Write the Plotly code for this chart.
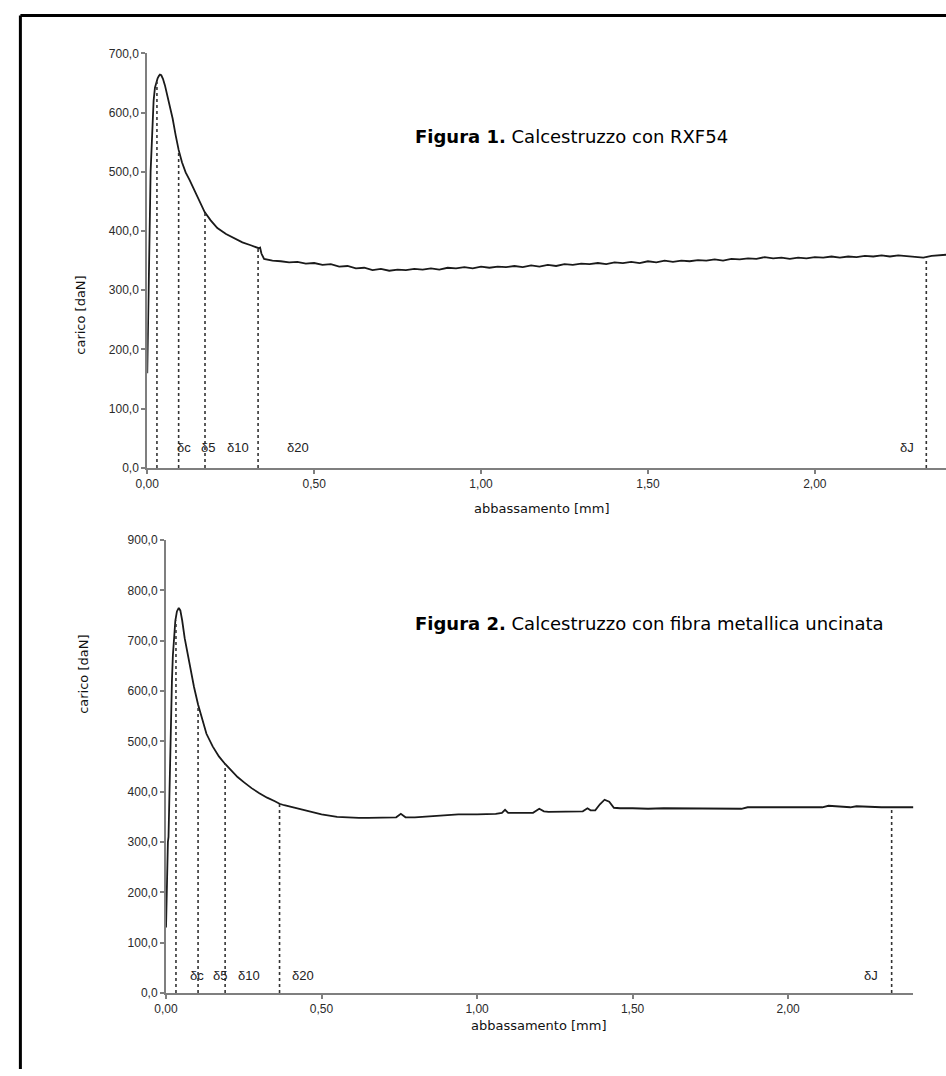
import plotly.graph_objects as go

W, H = 946, 1076

# ---------------- data: Figura 1 (RXF54) ----------------
x1 = [0.000, 0.002, 0.004, 0.005, 0.006, 0.008, 0.010, 0.013, 0.016, 0.019, 0.023, 0.027,
      0.031, 0.035, 0.038, 0.042, 0.047, 0.053, 0.060, 0.068, 0.076, 0.085, 0.094, 0.104,
      0.115, 0.127, 0.140, 0.155, 0.172, 0.190, 0.210, 0.236, 0.260, 0.285, 0.310, 0.325,
      0.334, 0.338, 0.342, 0.350, 0.375,
      0.400, 0.425, 0.450, 0.475, 0.500, 0.525, 0.550, 0.575, 0.600, 0.625, 0.650, 0.675,
      0.700, 0.725, 0.750, 0.775, 0.800, 0.825, 0.850, 0.875, 0.900, 0.925, 0.950, 0.975,
      1.000, 1.025, 1.050, 1.075, 1.100, 1.125, 1.150, 1.175, 1.200, 1.225, 1.250, 1.275,
      1.300, 1.325, 1.350, 1.375, 1.400, 1.425, 1.450, 1.475, 1.500, 1.525, 1.550, 1.575,
      1.600, 1.625, 1.650, 1.675, 1.700, 1.725, 1.750, 1.775, 1.800, 1.825, 1.850, 1.875,
      1.900, 1.925, 1.950, 1.975, 2.000, 2.025, 2.050, 2.075, 2.100, 2.125, 2.150, 2.175,
      2.200, 2.225, 2.250, 2.275, 2.300, 2.325, 2.350, 2.367, 2.393]
y1 = [160, 250, 330, 385, 372, 430, 500, 545, 585, 620, 642, 652,
      658, 662, 664, 663, 657, 646, 630, 612, 590, 562, 537, 516,
      499, 486, 470, 452, 432, 418, 405, 395, 388, 381, 376, 373,
      371, 372, 362, 353, 350,
      349, 347, 348, 345, 346, 343, 344, 340, 341, 337, 338, 334,
      336, 333, 335, 334, 336, 335, 337, 335, 338, 337, 339, 337,
      340, 338, 340, 339, 341, 339, 342, 340, 343, 341, 344, 343,
      345, 344, 346, 344, 347, 346, 348, 346, 349, 347, 350, 348,
      350, 349, 351, 350, 352, 350, 353, 352, 354, 353, 356, 354,
      355, 353, 355, 354, 356, 355, 357, 355, 357, 356, 358, 357,
      359, 357, 359, 358, 357, 355, 358, 359, 360]

# characteristic displacements (Figura 1)
d1_x = [0.029, 0.094, 0.173, 0.332, 2.334]
d1_y = [652, 535, 432, 371, 356]

# ---------------- data: Figura 2 (fibra metallica uncinata) ----------------
x2 = [0.000, 0.002, 0.004, 0.006, 0.008, 0.010, 0.012, 0.014, 0.017, 0.019, 0.022, 0.026,
      0.030, 0.035, 0.041, 0.046, 0.052, 0.060, 0.070, 0.080, 0.090, 0.103, 0.115, 0.130,
      0.150, 0.170, 0.190, 0.210, 0.230, 0.250, 0.275, 0.300, 0.325, 0.350, 0.365, 0.380,
      0.400, 0.425, 0.457, 0.500, 0.550, 0.600, 0.620, 0.650, 0.700, 0.740, 0.755, 0.770,
      0.800, 0.850, 0.900, 0.940, 1.000, 1.060, 1.080, 1.090, 1.100, 1.150, 1.180, 1.200,
      1.215, 1.230, 1.280, 1.340, 1.355, 1.365, 1.380, 1.395, 1.410, 1.425, 1.440, 1.460,
      1.500, 1.550, 1.600, 1.700, 1.800, 1.850, 1.870, 1.950, 2.050, 2.110, 2.130, 2.200,
      2.220, 2.300, 2.403]
y2 = [130, 220, 225, 300, 310, 380, 400, 470, 560, 620, 670, 715,
      740, 758, 765, 760, 740, 705, 670, 640, 608, 573, 545, 515,
      490, 470, 455, 441, 429, 419, 407, 397, 388, 381, 376, 373,
      370, 366, 362, 355, 350, 348, 348, 348, 348, 349, 356, 349,
      349, 351, 352, 355, 355, 356, 358, 364, 358, 358, 358, 366,
      361, 360, 361, 361, 367, 363, 363, 375, 384, 380, 368, 367,
      367, 366, 367, 367, 366, 366, 369, 369, 369, 369, 372, 369,
      371, 369, 369]

# characteristic displacements (Figura 2)
d2_x = [0.032, 0.103, 0.190, 0.365, 2.333]
d2_y = [740, 573, 455, 376, 369]

d_labels = ["δc", "δ5", "δ10", "δ20", "δJ"]
d1_label_x = [0.109, 0.181, 0.272, 0.452, 2.275]
d2_label_x = [0.098, 0.172, 0.268, 0.442, 2.265]
label_y = 35

x1_range = [0, 2.393]
y1_range = [0, 700]
x2_range = [0, 2.403]
y2_range = [0, 900]

x_title = "abbassamento [mm]"
y_title = "carico [daN]"
title1_bold, title1_rest = "Figura 1.", "Calcestruzzo con RXF54"
title2_bold, title2_rest = "Figura 2.", "Calcestruzzo con fibra metallica uncinata"

# ---------------- layout geometry (pixels) ----------------
def px_x(v):
    return v / W

def px_y(v):
    return 1 - v / H

fig = go.Figure()

curve_style = dict(color="#1a1a1a", width=1.8)
dot_style = dict(color="#333333", width=1.6, dash="dot")

fig.add_trace(go.Scatter(x=x1, y=y1, mode="lines", line=curve_style,
                         xaxis="x", yaxis="y", showlegend=False, hoverinfo="skip"))
for xv, yv in zip(d1_x, d1_y):
    fig.add_trace(go.Scatter(x=[xv, xv], y=[0, yv], mode="lines", line=dot_style,
                             xaxis="x", yaxis="y", showlegend=False, hoverinfo="skip"))

fig.add_trace(go.Scatter(x=x2, y=y2, mode="lines", line=curve_style,
                         xaxis="x2", yaxis="y2", showlegend=False, hoverinfo="skip"))
for xv, yv in zip(d2_x, d2_y):
    fig.add_trace(go.Scatter(x=[xv, xv], y=[0, yv], mode="lines", line=dot_style,
                             xaxis="x2", yaxis="y2", showlegend=False, hoverinfo="skip"))

tick_font = dict(family="Liberation Sans, Arial, sans-serif", size=12, color="#2a2a2a")
axis_common = dict(showline=True, linecolor="#7f7f7f", linewidth=2, ticks="outside",
                   ticklen=4, tickwidth=1.5, tickcolor="#7f7f7f", showgrid=False,
                   zeroline=False, tickfont=tick_font, fixedrange=True)

lab_font = dict(family="Liberation Sans, Arial", size=13, color="#222")
annotations = []
for lx, lab in zip(d1_label_x, d_labels):
    annotations.append(dict(x=lx, y=label_y, xref="x", yref="y", text=lab, showarrow=False,
                            font=lab_font))
for lx, lab in zip(d2_label_x, d_labels):
    annotations.append(dict(x=lx, y=label_y, xref="x2", yref="y2", text=lab, showarrow=False,
                            font=lab_font))

title_font = dict(family="DejaVu Sans, Verdana, sans-serif", size=13, color="#111")
big_font = dict(family="DejaVu Sans, Verdana, sans-serif", size=18, color="#000")
annotations += [
    dict(x=px_x(537), y=px_y(508), xref="paper", yref="paper", text=x_title,
         showarrow=False, font=title_font),
    dict(x=px_x(534), y=px_y(1042), xref="paper", yref="paper", text=x_title,
         showarrow=False, font=title_font),
    dict(x=px_x(60), y=px_y(270), xref="paper", yref="paper", text=y_title,
         showarrow=False, textangle=-90, font=title_font),
    dict(x=px_x(62), y=px_y(718), xref="paper", yref="paper", text=y_title,
         showarrow=False, textangle=-90, font=title_font),
    dict(x=px_x(406), y=px_y(119), xref="paper", yref="paper", xanchor="left",
         text=f"<b>{title1_bold}</b> {title1_rest}", showarrow=False, font=big_font),
    dict(x=px_x(406), y=px_y(625), xref="paper", yref="paper", xanchor="left",
         text=f"<b>{title2_bold}</b> {title2_rest}", showarrow=False, font=big_font),
]

frame = dict(color="black", width=3)

fig.update_layout(
    width=W, height=H,
    margin=dict(l=0, r=0, t=0, b=0),
    paper_bgcolor="white", plot_bgcolor="white",
    separators=",.",
    showlegend=False,
    xaxis=dict(axis_common, domain=[px_x(137), 1.0], range=x1_range, dtick=0.5,
               tickformat=".2f", anchor="y"),
    yaxis=dict(axis_common, domain=[px_y(467), px_y(47)], range=y1_range, dtick=100,
               tickformat=".1f", anchor="x"),
    xaxis2=dict(axis_common, domain=[px_x(156), px_x(913)], range=x2_range, dtick=0.5,
                tickformat=".2f", anchor="y2"),
    yaxis2=dict(axis_common, domain=[px_y(999), px_y(540)], range=y2_range, dtick=100,
                tickformat=".1f", anchor="x2"),
    annotations=annotations,
    shapes=[
        dict(type="line", xref="paper", yref="paper", x0=px_x(8.5), x1=1.0,
             y0=px_y(8.5), y1=px_y(8.5), line=frame, layer="above"),
        dict(type="line", xref="paper", yref="paper", x0=px_x(8.5), x1=px_x(8.5),
             y0=px_y(8.5), y1=0.0, line=frame, layer="above"),
    ],
)

fig.write_html(
    "out.html",
    config={"displayModeBar": False},
    post_script="document.body.style.margin='0px';document.body.style.overflow='hidden';",
)
